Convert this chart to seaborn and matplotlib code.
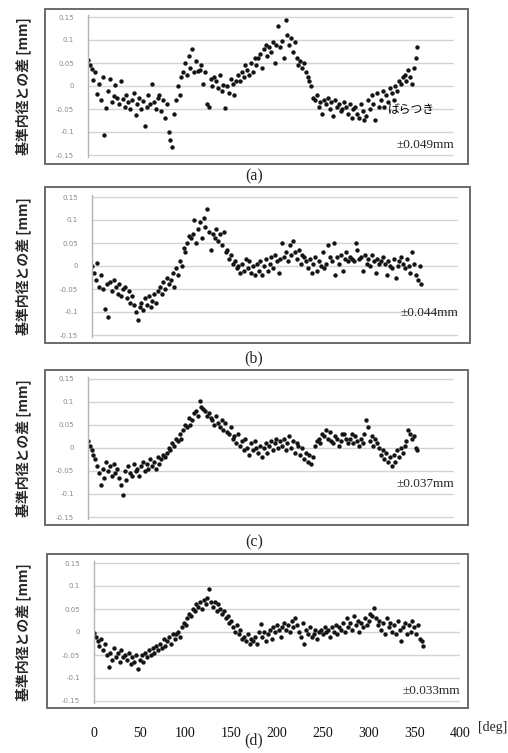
import matplotlib
matplotlib.use("Agg")
import matplotlib.pyplot as plt
from matplotlib.patches import Rectangle
import seaborn as sns
import pandas as pd

# measurement angles [deg], one reading every 2 degrees
deg = list(range(0, 361, 2))

# difference from reference inner diameter [mm]
diff_a = [
    0.056, 0.045, 0.038, 0.012, 0.030, -0.018, 0.005, -0.030, 0.020, -0.106,
    -0.048, -0.010, 0.015, -0.035, -0.022, 0.003, -0.025, -0.040, 0.010, -0.028,
    -0.045, -0.020, -0.035, -0.050, -0.030, -0.015, -0.062, -0.040, -0.025, -0.050,
    -0.033, -0.088, -0.045, -0.020, -0.040, 0.005, -0.035, -0.050, -0.025, -0.020,
    -0.055, -0.030, -0.070, -0.040, -0.100, -0.118, -0.132, -0.060, -0.030, 0.000,
    -0.020, 0.020, 0.030, 0.050, 0.025, 0.065, 0.040, 0.080, 0.030, 0.055,
    0.033, 0.035, 0.045, 0.005, 0.030, -0.040, -0.045, 0.015, 0.000, 0.020,
    0.010, -0.005, 0.025, -0.010, 0.003, -0.048, 0.000, -0.015, 0.015, 0.005,
    -0.020, 0.010, 0.025, 0.010, 0.030, 0.020, 0.045, 0.035, 0.025, 0.050,
    0.030, 0.060, 0.045, 0.060, 0.070, 0.040, 0.080, 0.090, 0.065, 0.085,
    0.075, 0.095, 0.050, 0.090, 0.130, 0.085, 0.098, 0.060, 0.143, 0.110,
    0.090, 0.105, 0.075, 0.095, 0.060, 0.045, 0.055, 0.040, 0.050, 0.030,
    0.020, 0.010, 0.000, -0.025, -0.030, -0.020, -0.045, -0.035, -0.060, -0.030,
    -0.040, -0.025, -0.050, -0.035, -0.065, -0.030, -0.045, -0.040, -0.055, -0.050,
    -0.035, -0.045, -0.060, -0.040, -0.070, -0.050, -0.045, -0.060, -0.070, -0.040,
    -0.055, -0.075, -0.065, -0.030, -0.050, -0.020, -0.040, -0.075, -0.015, -0.045,
    -0.030, -0.010, -0.045, -0.020, -0.035, -0.005, -0.015, -0.030, 0.000, -0.010,
    0.010, 0.005, 0.020, 0.025, 0.010, 0.035, 0.020, 0.005, 0.040, 0.060,
    0.084,
]

diff_b = [
    -0.001, -0.015, -0.030, 0.007, -0.045, -0.020, -0.050, -0.093, -0.040, -0.110,
    -0.035, -0.055, -0.030, -0.045, -0.060, -0.040, -0.065, -0.050, -0.045, -0.070,
    -0.055, -0.080, -0.065, -0.085, -0.100, -0.117, -0.090, -0.080, -0.095, -0.070,
    -0.085, -0.065, -0.090, -0.075, -0.060, -0.080, -0.055, -0.045, -0.060, -0.035,
    -0.050, -0.025, -0.040, -0.030, -0.015, -0.045, -0.005, -0.020, 0.010, 0.000,
    0.040, 0.030, 0.050, 0.065, 0.060, 0.070, 0.100, 0.050, 0.080, 0.095,
    0.060, 0.105, 0.085, 0.125, 0.075, 0.035, 0.070, 0.060, 0.080, 0.055,
    0.070, 0.045, 0.075, 0.030, 0.035, 0.015, 0.025, 0.005, 0.010, -0.005,
    0.000, -0.015, 0.005, -0.010, 0.015, -0.005, 0.010, -0.015, 0.000, -0.020,
    0.005, -0.010, 0.010, -0.020, 0.000, 0.015, -0.010, 0.005, 0.020, -0.005,
    0.025, 0.010, -0.015, 0.015, 0.050, 0.020, 0.030, 0.010, 0.045, 0.025,
    0.055, 0.030, 0.015, 0.035, 0.005, 0.025, 0.020, 0.010, -0.005, 0.015,
    -0.015, 0.005, 0.020, -0.010, 0.010, 0.000, 0.030, -0.005, 0.005, 0.045,
    0.020, 0.010, 0.050, -0.020, 0.020, 0.005, 0.025, -0.010, 0.015, 0.030,
    0.010, 0.020, 0.015, 0.010, 0.050, 0.035, 0.015, 0.020, -0.010, 0.025,
    0.005, 0.015, 0.000, 0.025, 0.010, -0.015, 0.015, 0.005, 0.010, 0.020,
    0.005, -0.020, 0.010, 0.000, -0.005, 0.015, -0.025, 0.000, 0.010, 0.020,
    0.005, -0.005, 0.015, 0.000, -0.015, 0.030, 0.005, -0.020, -0.030, 0.000,
    -0.040,
]

diff_c = [
    0.015, 0.005, -0.005, -0.015, -0.025, -0.040, -0.055, -0.080, -0.045, -0.065,
    -0.030, -0.050, -0.040, -0.060, -0.035, -0.055, -0.045, -0.065, -0.080, -0.103,
    -0.050, -0.070, -0.040, -0.055, -0.060, -0.035, -0.050, -0.045, -0.060, -0.040,
    -0.030, -0.050, -0.035, -0.045, -0.025, -0.040, -0.030, -0.045, -0.020, -0.035,
    -0.025, -0.015, -0.020, -0.010, 0.000, -0.005, 0.010, 0.005, 0.020, 0.015,
    0.030, 0.020, 0.040, 0.050, 0.045, 0.065, 0.050, 0.060, 0.075, 0.080,
    0.070, 0.103, 0.090, 0.085, 0.080, 0.070, 0.075, 0.065, 0.060, 0.050,
    0.070, 0.055, 0.045, 0.060, 0.040, 0.055, 0.035, 0.030, 0.045, 0.020,
    0.025, 0.010, 0.030, 0.005, 0.015, -0.005, 0.020, 0.000, -0.015, 0.010,
    -0.005, 0.015, 0.000, -0.010, 0.005, -0.020, 0.000, 0.010, -0.010, 0.005,
    0.015, -0.005, 0.010, 0.020, 0.000, 0.015, 0.005, 0.020, -0.005, 0.010,
    0.025, 0.000, 0.015, -0.010, 0.010, 0.005, -0.015, 0.000, -0.025, -0.010,
    -0.030, -0.015, -0.035, -0.020, 0.005, 0.015, 0.020, 0.010, 0.030, 0.025,
    0.040, 0.020, 0.035, 0.015, 0.010, 0.025, 0.020, 0.005, 0.015, 0.030,
    0.030, 0.020, 0.010, 0.020, 0.030, 0.010, 0.025, 0.015, 0.005, 0.020,
    0.010, 0.030, 0.060, 0.045, 0.015, 0.025, 0.005, 0.020, 0.010, 0.000,
    -0.015, -0.005, -0.025, -0.010, -0.030, -0.020, -0.040, -0.015, -0.030, -0.005,
    -0.020, 0.000, -0.010, 0.005, 0.015, 0.040, 0.030, 0.020, 0.025, 0.000,
    -0.005,
]

diff_d = [
    -0.003, -0.010, -0.020, -0.030, -0.015, -0.040, -0.025, -0.050, -0.077, -0.045,
    -0.060, -0.035, -0.055, -0.045, -0.065, -0.040, -0.055, -0.050, -0.060, -0.045,
    -0.070, -0.055, -0.065, -0.050, -0.080, -0.060, -0.050, -0.065, -0.045, -0.055,
    -0.040, -0.050, -0.035, -0.045, -0.030, -0.040, -0.025, -0.035, -0.015, -0.030,
    -0.020, -0.010, -0.025, -0.005, -0.015, -0.005, 0.000, -0.010, 0.010, 0.020,
    0.015, 0.030, 0.040, 0.035, 0.050, 0.045, 0.060, 0.055, 0.065, 0.050,
    0.070, 0.060, 0.075, 0.093, 0.065, 0.055, 0.065, 0.045, 0.060, 0.050,
    0.040, 0.045, 0.030, 0.035, 0.020, 0.025, 0.010, 0.000, 0.015, -0.005,
    0.005, -0.015, -0.010, -0.020, -0.005, -0.025, -0.015, -0.020, -0.010, -0.025,
    0.000, 0.018, -0.010, 0.000, -0.020, -0.005, 0.005, -0.015, 0.010, 0.000,
    0.015, 0.005, -0.010, 0.010, 0.020, 0.005, 0.015, 0.000, 0.025, 0.010,
    0.030, 0.015, 0.000, -0.010, 0.020, -0.025, 0.005, -0.005, 0.010, -0.010,
    -0.005, 0.005, -0.015, 0.000, 0.005, -0.005, 0.010, 0.000, 0.005, -0.010,
    0.010, 0.000, 0.015, -0.005, 0.010, 0.005, 0.020, 0.000, 0.030, 0.010,
    0.020, 0.005, 0.035, 0.015, 0.025, 0.000, 0.020, 0.010, 0.030, 0.015,
    0.025, 0.040, 0.035, 0.052, 0.030, 0.015, 0.025, 0.005, 0.020, -0.005,
    0.030, 0.010, 0.020, 0.000, 0.015, -0.005, 0.025, 0.005, -0.020, 0.010,
    0.020, -0.005, 0.015, 0.000, 0.025, 0.010, -0.005, 0.015, -0.015, -0.020,
    -0.030,
]

tags = ["(a)", "(b)", "(c)", "(d)"]
spreads = ["±0.049mm", "±0.044mm", "±0.037mm", "±0.033mm"]
ytick_vals = [0.15, 0.1, 0.05, 0, -0.05, -0.1, -0.15]
ytick_text = ["0.15", "0.1", "0.05", "0", "-0.05", "-0.1", "-0.15"]
xtick_vals = [0, 50, 100, 150, 200, 250, 300, 350, 400]

W, H = 508, 753
sns.set_style("white")
plt.rcParams["font.family"] = ["Noto Sans CJK JP", "DejaVu Sans"]

fig = plt.figure(figsize=(W / 100, H / 100), dpi=100)


def box(l, t, r, b):
    return [l / W, 1 - b / H, (r - l) / W, (b - t) / H]


# pixel layout of each panel: frame box, plot area (x-left, x-right, y of +0.15, y of -0.15)
frames = [(45, 9, 468, 164), (45, 187, 470, 343), (45, 370, 468, 525), (47, 554, 468, 708)]
areas = [(88, 454, 17, 155), (92, 458, 197, 335), (88, 454, 379, 517), (94, 460, 563, 701)]
tag_y = [176, 358, 542, 740]
note_y = [-0.128, -0.102, -0.078, -0.128]

for i, vals in enumerate([diff_a, diff_b, diff_c, diff_d]):
    fl, ft, fr, fb = frames[i]
    fig.patches.append(Rectangle((fl / W, 1 - fb / H), (fr - fl) / W, (fb - ft) / H,
                                 transform=fig.transFigure, fill=False,
                                 edgecolor="#6a6a6a", linewidth=1.4))
    al, ar, at, ab = areas[i]
    ext = (ab - at) * 0.005 / 0.30
    ax = fig.add_axes(box(al, at - ext, ar, ab + ext))
    df = pd.DataFrame({"deg": deg, "diff": vals})
    sns.scatterplot(data=df, x="deg", y="diff", ax=ax, color="#141414",
                    marker="o", s=10, linewidth=0, legend=False)
    ax.set_xlim(0, 400)
    ax.set_ylim(-0.155, 0.155)
    ax.set_yticks(ytick_vals)
    ax.set_yticklabels(ytick_text, fontsize=5, color="#8a8a8a", family="DejaVu Sans")
    ax.tick_params(axis="y", length=0, pad=10)
    ax.yaxis.grid(True, color="#d4d4d4", linewidth=1.0)
    ax.set_axisbelow(True)
    for s in ["top", "right", "bottom"]:
        ax.spines[s].set_visible(False)
    ax.spines["left"].set_color("#b4b4b4")
    ax.spines["left"].set_linewidth(1.0)
    ax.set_xlabel("")
    ax.set_ylabel("")
    if i == 3:
        ax.set_xticks(xtick_vals)
        ax.set_xticklabels([str(v) for v in xtick_vals], fontsize=10,
                           family="Liberation Serif", color="#111111")
        ax.tick_params(axis="x", length=0, pad=17)
    else:
        ax.set_xticks([])
    ax.text(1.0, note_y[i], spreads[i], transform=ax.get_yaxis_transform(),
            ha="right", va="center", fontsize=9.5, family="Liberation Serif")
    fig.text(254 / W, 1 - tag_y[i] / H, tags[i], ha="center", va="center",
             fontsize=11.5, family="Liberation Serif")
    fig.text(23 / W, 1 - ((at + ab) / 2) / H, "基準内径との差 [mm]", rotation=90,
             ha="center", va="center", fontsize=10, fontweight="bold")
    if i == 0:
        ax.text(328, -0.05, "ばらつき", ha="left", va="center", fontsize=8.5,
                color="black")

fig.text(493 / W, 1 - 727 / H, "[deg]", ha="center", va="center",
         fontsize=10, family="Liberation Serif")

fig.savefig("out.png", dpi=100, facecolor="white")
